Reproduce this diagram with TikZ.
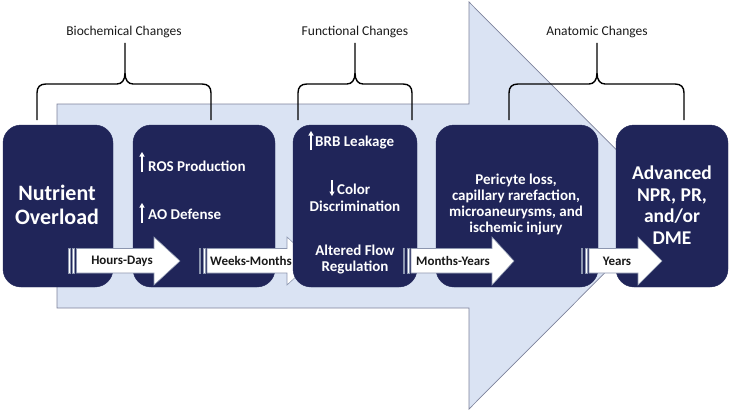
\documentclass[tikz,border=0pt]{standalone}
\usepackage{fontspec}
\setmainfont{Carlito}
\usetikzlibrary{arrows.meta}
\definecolor{navy}{RGB}{32,37,89}
\definecolor{bgblue}{RGB}{218,227,243}
\definecolor{bgedge}{RGB}{125,130,155}
\definecolor{arredge}{RGB}{140,150,175}
\tikzset{
  stagebox/.style={fill=navy, draw=navy, rounded corners=18pt, inner sep=0pt},
  boxtext/.style={text=white, font=\bfseries\fontsize{15}{16}\selectfont, align=center, inner sep=0pt},
  bigtext/.style={text=white, font=\bfseries\fontsize{22}{24}\selectfont, align=center, inner sep=0pt},
  bigtextb/.style={text=white, font=\bfseries\fontsize{19.5}{21.5}\selectfont, align=center, inner sep=0pt},
  arrlabel/.style={text=black!90, font=\bfseries\fontsize{13}{14}\selectfont, inner sep=0pt},
  bracelabel/.style={text=black!90, font=\fontsize{13.5}{15}\selectfont, inner sep=0pt},
  bracestyle/.style={draw=black, line width=1.4pt},
  smallarrow/.style={fill=white, draw=arredge, line width=0.6pt},
  updown/.style={draw=white, line width=1.3pt, -{Triangle[length=4.5pt,width=5pt]}},
}
\newcommand\stripearrow[4]{%
  \filldraw[smallarrow] (#1,248.5) rectangle (#1+1.4,273);
  \filldraw[smallarrow] (#1+3.8,248.5) rectangle (#1+6.2,273);
  \filldraw[smallarrow] (#2,248.5) -- (#3,248.5) -- (#3,237) -- (#4,261) -- (#3,285) -- (#3,273) -- (#2,273) -- cycle;}
\newcommand\bracedraw[3]{%
  \draw[bracestyle] (#1,120) -- (#1,93) .. controls (#1,87) and (#1+3,84) .. (#1+9,84)
    -- (#2-8,84) .. controls (#2-3,84) and (#2,80) .. (#2,73) -- (#2,43)
    -- (#2,73) .. controls (#2,80) and (#2+3,84) .. (#2+8,84)
    -- (#3-9,84) .. controls (#3-3,84) and (#3,87) .. (#3,93) -- (#3,120);}
\begin{document}
\begin{tikzpicture}[x=1pt,y=-1pt]
\useasboundingbox (0,0) rectangle (730,412);
% big background arrow
\filldraw[fill=bgblue, draw=bgedge, line width=0.7pt]
  (57,104) -- (469,104) -- (469,2) -- (672,205.5) -- (469,409) -- (469,308) -- (57,308) -- cycle;
% braces
\bracedraw{37}{125}{211}
\bracedraw{298}{355}{412}
\bracedraw{509}{597}{684}
\node[bracelabel] (lab1) at (124,32) {Biochemical Changes};
\node[bracelabel] (lab2) at (355,32) {Functional Changes};
\node[bracelabel] (lab3) at (597,32) {Anatomic Changes};
% boxes and arrows (stacking order matters)
\node[stagebox, minimum width=110pt, minimum height=162pt] (b1) at (58,206) {};
\node[stagebox, minimum width=142pt, minimum height=162pt] (b2) at (204,206) {};
\stripearrow{68.5}{76.5}{154}{180}
\node[arrlabel] (a1) at (122,261) {Hours-Days};
\stripearrow{199}{207}{287}{313}
\node[arrlabel] (a2) at (251,261) {Weeks-Months};
\node[stagebox, minimum width=124pt, minimum height=162pt] (b3) at (355,206) {};
\node[stagebox, minimum width=162pt, minimum height=162pt] (b4) at (517,206) {};
\stripearrow{403}{411}{492}{514}
\node[arrlabel] (a3) at (453,261) {Months-Years};
\node[stagebox, minimum width=112pt, minimum height=162pt] (b5) at (672,206) {};
\stripearrow{581}{589}{638}{662}
\node[arrlabel] (a4) at (617,261) {Years};
% box texts
\node[bigtext] (t1) at (57,205) {Nutrient\\Overload};
\draw[updown] (142,172) -- (142,152);
\node[boxtext, anchor=west] (t2a) at (148,166) {ROS Production};
\draw[updown] (142,223) -- (142,203);
\node[boxtext, anchor=west] (t2b) at (148,214) {AO Defense};
\draw[updown] (311,150) -- (311,131);
\node[boxtext, anchor=west] (t3a) at (315,143) {BRB Leakage};
\draw[updown] (332,180) -- (332,196);
\node[boxtext, anchor=west] (t3b) at (337,189) {Color};
\node[boxtext] (t3c) at (355,206) {Discrimination};
\node[boxtext] (t3d) at (355,260) {Altered Flow\\Regulation};
\node[boxtext] (t4) at (516,204.5) {Pericyte loss,\\capillary rarefaction,\\microaneurysms, and\\ischemic injury};
\node[bigtextb] (t5) at (672,205) {Advanced\\NPR, PR,\\and/or\\DME};
\end{tikzpicture}
\end{document}
